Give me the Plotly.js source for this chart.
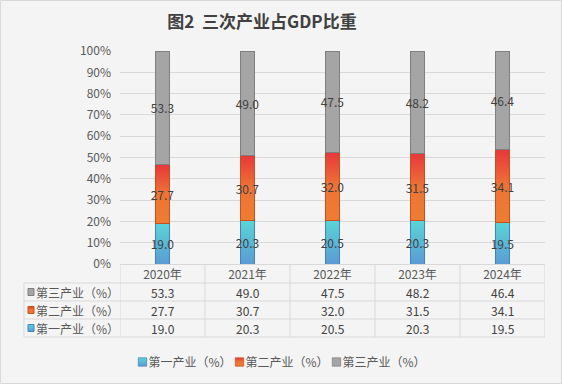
<!DOCTYPE html>
<html>
<head>
<meta charset="utf-8">
<script src="https://cdn.plot.ly/plotly-3.0.1.min.js"></script>
<style>html,body{margin:0;padding:0;background:#f4f4f4;}#chart{width:562px;height:384px;}</style>
</head>
<body>
<div id="chart"></div>
<script>
// ---- data ----
const years = ['2020年', '2021年', '2022年', '2023年', '2024年'];
const primary = [19.0, 20.3, 20.5, 20.3, 19.5];
const secondary = [27.7, 30.7, 32.0, 31.5, 34.1];
const tertiary = [53.3, 49.0, 47.5, 48.2, 46.4];
const seriesNames = ['第一产业（%）', '第二产业（%）', '第三产业（%）'];

// ---- geometry helpers (pixels -> paper) ----
const W = 562, H = 384, L = 120, R = 545, T = 51, B = 264;
const px = x => (x - L) / (R - L);
const py = y => (B - y) / (B - T);

const FONT = '"Noto Sans CJK SC", "Noto Sans", sans-serif';
const C1 = 'rgb(91,180,214)', C2 = 'rgb(236,95,52)', C3 = 'rgb(165,165,165)';
const colors = [C1, C2, C3];
const lineColors = ['rgb(65,130,190)', 'rgb(200,80,30)', 'rgb(127,127,127)'];
const series = [primary, secondary, tertiary];

const traces = series.map((vals, k) => ({
  type: 'bar',
  name: seriesNames[k],
  x: years,
  y: vals,
  width: 0.165,
  marker: {color: colors[k], line: {color: lineColors[k], width: 1}},
  text: vals.map(v => v.toFixed(1)),
  textposition: 'inside',
  insidetextanchor: 'middle',
  textangle: 0,
  constraintext: 'none',
  textfont: {family: FONT, size: 12, color: '#404040'},
  hoverinfo: 'skip'
}));

// ---- data table under the axis ----
const rowOrder = [2, 1, 0]; // top to bottom: 第三, 第二, 第一
const rowCenters = [292, 310, 328];
const annotations = [];
const shapes = [];
rowOrder.forEach((k, r) => {
  const yc = rowCenters[r];
  annotations.push({
    xref: 'paper', yref: 'paper', x: px(34), y: py(yc), xanchor: 'left', yanchor: 'middle',
    text: seriesNames[k], showarrow: false, font: {family: FONT, size: 12, color: '#595959'}
  });
  shapes.push({
    type: 'rect', xref: 'paper', yref: 'paper', x0: px(28), x1: px(34), y0: py(yc + 3.5), y1: py(yc - 3.5),
    fillcolor: colors[k], line: {color: lineColors[k], width: 1}, layer: 'above'
  });
  series[k].forEach((v, i) => {
    annotations.push({
      xref: 'x', yref: 'paper', x: years[i], y: py(yc), xanchor: 'center', yanchor: 'middle',
      text: v.toFixed(1), showarrow: false, font: {family: FONT, size: 12, color: '#404040'}
    });
  });
});
const gridC = '#d9d9d9';
[283, 301, 319, 337].forEach(y => shapes.push({
  type: 'line', xref: 'paper', yref: 'paper', x0: px(24), x1: 1, y0: py(y), y1: py(y),
  line: {color: gridC, width: 1}
}));
for (let i = 0; i <= years.length; i++) {
  shapes.push({type: 'line', xref: 'x', yref: 'paper', x0: i - 0.5, x1: i - 0.5, y0: py(264), y1: py(337),
    line: {color: gridC, width: 1}});
}
shapes.push({type: 'line', xref: 'paper', yref: 'paper', x0: px(24), x1: px(24), y0: py(283), y1: py(337),
  line: {color: gridC, width: 1}});
// outer border
shapes.push({type: 'rect', xref: 'paper', yref: 'paper', x0: px(0.5), x1: px(561.5), y0: py(383.5), y1: py(0.5),
  line: {color: '#d9d9d9', width: 1}, fillcolor: 'rgba(0,0,0,0)'});

const layout = {
  width: W, height: H,
  margin: {l: L, r: W - R, t: T, b: H - B, pad: 0},
  paper_bgcolor: '#f4f4f4', plot_bgcolor: '#f4f4f4',
  font: {family: FONT, size: 12, color: '#595959'},
  title: {text: '<b>图2\u00a0\u00a0三次产业占GDP比重</b>', x: 262 / W, xref: 'container', xanchor: 'center',
    y: 1 - 22 / H, yref: 'container', yanchor: 'middle', font: {family: FONT, size: 17, color: '#404040'}},
  barmode: 'stack',
  showlegend: true,
  legend: {orientation: 'h', xref: 'container', yref: 'container', x: 254 / W, xanchor: 'center',
    y: 1 - 362 / H, yanchor: 'middle', traceorder: 'normal', font: {family: FONT, size: 12, color: '#595959'},
    bgcolor: 'rgba(0,0,0,0)', itemwidth: 30, entrywidth: 52, entrywidthmode: 'pixels'},
  xaxis: {type: 'category', showline: true, linecolor: gridC, linewidth: 1, ticks: '', showgrid: false,
    tickfont: {family: FONT, size: 12, color: '#595959'}, fixedrange: true, range: [-0.5, 4.5]},
  yaxis: {range: [0, 100], dtick: 10, ticksuffix: '%', showgrid: true, gridcolor: gridC, gridwidth: 1,
    zeroline: false, showline: false, ticks: '', ticklabelstandoff: 8,
    tickfont: {family: FONT, size: 12, color: '#595959'}, fixedrange: true},
  annotations: annotations,
  shapes: shapes
};

function applyGradients(gd) {
  const svg = gd.querySelector('svg.main-svg');
  if (!svg) return;
  let defs = svg.querySelector('defs');
  const NS = 'http://www.w3.org/2000/svg';
  if (!svg.querySelector('#gradA')) {
    const mk = (id, stops) => {
      const g = document.createElementNS(NS, 'linearGradient');
      g.setAttribute('id', id);
      g.setAttribute('x1', '0'); g.setAttribute('y1', '1'); g.setAttribute('x2', '0'); g.setAttribute('y2', '0');
      stops.forEach(([o, c]) => {
        const s = document.createElementNS(NS, 'stop');
        s.setAttribute('offset', o); s.setAttribute('stop-color', c);
        g.appendChild(s);
      });
      defs.appendChild(g);
    };
    mk('gradA', [['0', '#5b9bd5'], ['1', '#5ad5d5']]);
    mk('gradB', [['0', '#ed7d31'], ['0.5', '#ed7436'], ['1', '#e8373a']]);
  }
  const map = {'rgb(91, 180, 214)': 'url(#gradA)', 'rgb(236, 95, 52)': 'url(#gradB)'};
  gd.querySelectorAll('path').forEach(p => {
    const f = p.style.fill;
    if (map[f]) p.style.fill = map[f];
  });
  // smaller legend symbols, placed close to their text
  gd.querySelectorAll('.legend .legendpoints path').forEach(p => {
    if (p.getAttribute('data-adj')) return;
    const t = p.getAttribute('transform') || '';
    p.setAttribute('transform', t + ' translate(14,0) scale(0.7)');
    p.setAttribute('data-adj', '1');
  });
  gd.querySelectorAll('.legend [clip-path]').forEach(el => el.removeAttribute('clip-path'));
}

const gd = document.getElementById('chart');
Plotly.newPlot(gd, traces, layout, {displayModeBar: false, staticPlot: true}).then(() => {
  applyGradients(gd);
  gd.on && gd.on('plotly_afterplot', () => applyGradients(gd));
});
</script>
</body>
</html>
